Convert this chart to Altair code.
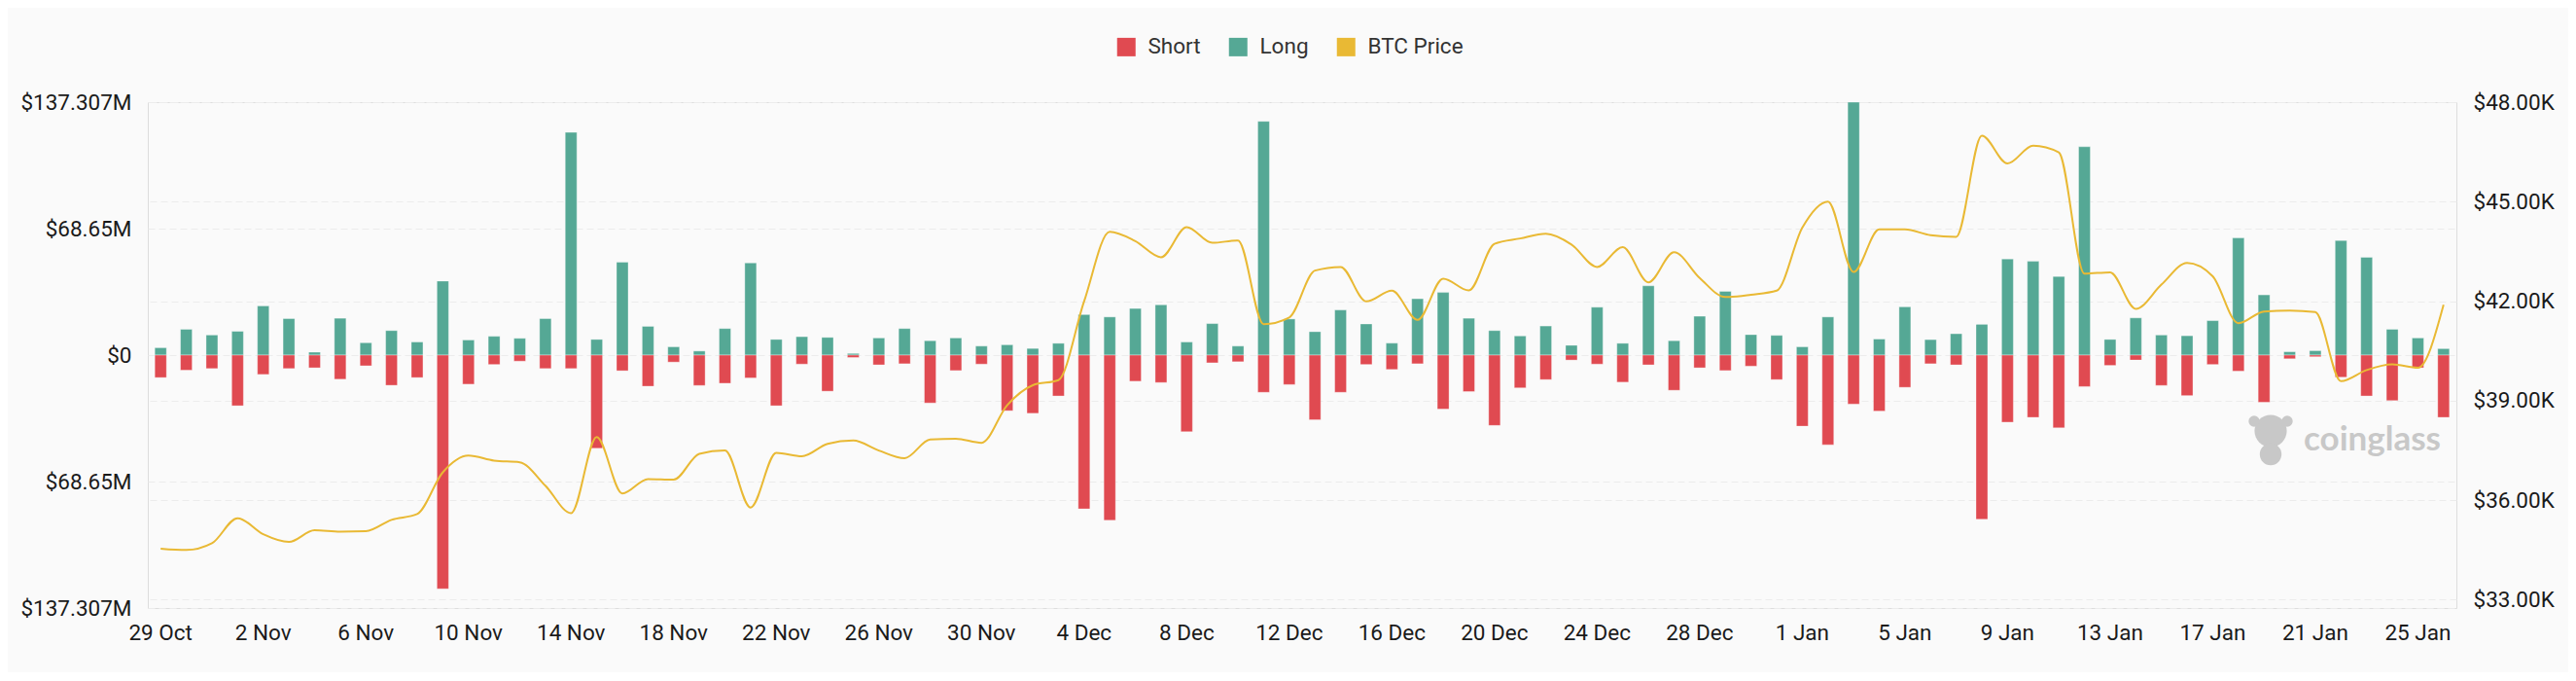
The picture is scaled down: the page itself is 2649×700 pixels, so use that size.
import altair as alt
import pandas as pd

# ---------------- data ----------------
days = [d.strftime("%-d %b") for d in pd.date_range("2023-10-29", periods=90)]

long_vals = [
    4.0, 14.0, 10.9, 12.9, 26.7, 19.8, 1.6, 20.0, 6.7, 13.3,
    7.1, 40.2, 8.2, 10.2, 9.1, 19.8, 120.9, 8.5, 50.4, 15.6,
    4.5, 2.2, 14.4, 50.0, 8.5, 10.0, 9.6, 0.9, 9.3, 14.4,
    7.8, 9.3, 4.9, 5.6, 3.6, 6.4, 22.0, 20.7, 25.3, 27.3,
    7.1, 17.1, 4.9, 126.9, 19.6, 12.7, 24.5, 16.9, 6.5, 30.6,
    34.0, 20.0, 13.3, 10.4, 15.8, 5.3, 26.0, 6.4, 37.6, 7.8,
    21.1, 34.6, 11.1, 10.7, 4.5, 20.7, 137.3, 8.7, 26.2, 8.4,
    11.6, 16.7, 52.2, 50.9, 42.7, 113.1, 8.5, 20.2, 10.9, 10.5,
    18.7, 63.6, 32.7, 1.8, 2.4, 62.2, 53.1, 14.0, 9.3, 3.5,
]

short_vals = [
    12.2, 8.2, 7.3, 27.5, 10.5, 7.3, 6.9, 13.1, 5.8, 16.4,
    12.2, 126.9, 15.8, 5.1, 3.3, 7.3, 7.3, 50.6, 8.5, 16.9,
    3.8, 16.5, 15.3, 12.4, 27.5, 4.9, 19.6, 1.3, 5.3, 4.7,
    26.0, 8.4, 4.9, 30.2, 31.6, 22.2, 83.5, 89.7, 14.2, 14.9,
    41.6, 4.2, 3.6, 20.2, 16.0, 35.1, 20.2, 5.1, 7.8, 4.7,
    29.3, 19.8, 38.2, 17.8, 13.3, 2.7, 4.9, 14.7, 5.3, 19.1,
    6.9, 8.4, 6.0, 13.3, 38.6, 48.7, 26.6, 30.4, 17.5, 4.7,
    5.3, 89.1, 36.4, 33.8, 39.5, 17.1, 5.6, 2.7, 16.5, 22.0,
    5.1, 8.7, 25.6, 2.0, 0.9, 12.0, 22.2, 24.7, 6.9, 33.8,
]

btc_price = [
    34540, 34497, 34700, 35457, 34973, 34741, 35093, 35052, 35064, 35407,
    35580, 36840, 37345, 37193, 37142, 36436, 35609, 37904, 36204, 36638,
    36618, 37398, 37497, 35779, 37427, 37324, 37700, 37800, 37497, 37265,
    37829, 37850, 37730, 38862, 39466, 39619, 41992, 44092, 43810, 43325,
    44234, 43759, 43830, 41305, 41507, 42921, 43032, 41992, 42315, 41436,
    42678, 42325, 43730, 43890, 44032, 43709, 43032, 43628, 42568, 43476,
    42698, 42123, 42194, 42315, 44213, 45001, 42880, 44163, 44163, 43990,
    43941, 46990, 46152, 46687, 46485, 42830, 42870, 41770, 42497, 43153,
    42749, 41335, 41689, 41719, 41669, 39589, 39922, 40093, 39992, 41891,
]

series_names = ["Short", "Long", "BTC Price"]
series_colors = ["#E04A51", "#55A895", "#E9B934"]

x_tick_labels = days[::4]
left_tick_values = [-137.307, -68.6535, 0, 68.6535, 137.307]
left_tick_labels = ["$137.307M", "$68.65M", "$0", "$68.65M", "$137.307M"]
right_tick_values = [33000, 36000, 39000, 42000, 45000, 48000]
right_tick_labels = ["$33.00K", "$36.00K", "$39.00K", "$42.00K", "$45.00K", "$48.00K"]

# ---------------- tables ----------------
bars = pd.DataFrame(
    {"day": days * 2,
     "type": ["Long"] * len(days) + ["Short"] * len(days),
     "value": long_vals + [-v for v in short_vals]}
)
price = pd.DataFrame({"day": days, "price": btc_price})


def label_expr(values, labels):
    expr = "''"
    for v, l in zip(values, labels):
        expr = f"abs(datum.value - ({v})) < 0.01 ? '{l}' : ({expr})"
    return expr


FONT = "Roboto"
GRID = "#ECECEC"

x_enc = alt.X(
    "day:N",
    sort=days,
    scale=alt.Scale(domain=days, paddingInner=0.545, paddingOuter=0.2725),
    axis=alt.Axis(values=x_tick_labels, labelAngle=0, ticks=False, tickSize=0,
                  domain=False, grid=False, labelFontSize=22.5, labelPadding=14,
                  labelColor="#1a1a1a", labelFont=FONT, title=None),
)

bar_layer = alt.Chart(bars).mark_bar(
    stroke="#ffffff", strokeWidth=1, strokeOpacity=0.35
).encode(
    x=x_enc,
    y=alt.Y(
        "value:Q",
        scale=alt.Scale(domain=[-137.307, 137.307], nice=False, zero=False),
        axis=alt.Axis(values=left_tick_values,
                      labelExpr=label_expr(left_tick_values, left_tick_labels),
                      grid=True, gridDash=[7, 4], gridColor=GRID, gridWidth=1,
                      domain=False, ticks=False, tickSize=0, labelPadding=17,
                      labelFontSize=22.5, labelColor="#1a1a1a", labelFont=FONT,
                      title=None),
    ),
    color=alt.Color(
        "type:N",
        scale=alt.Scale(domain=series_names, range=series_colors),
        legend=alt.Legend(orient="none", legendX=995, legendY=-68,
                          direction="horizontal", title=None,
                          symbolType="square", symbolSize=361,
                          symbolStrokeWidth=0, labelFontSize=22.5,
                          labelFont=FONT, labelColor="#333333",
                          labelOffset=11, columnPadding=27),
    ),
)

line_layer = alt.Chart(price).mark_line(
    color=series_colors[2], strokeWidth=2, interpolate="monotone"
).encode(
    x=x_enc,
    y=alt.Y(
        "price:Q",
        scale=alt.Scale(domain=[32748, 48000], nice=False, zero=False),
        axis=alt.Axis(orient="right", values=right_tick_values,
                      labelExpr=label_expr(right_tick_values, right_tick_labels),
                      grid=True, gridDash=[7, 4], gridColor=GRID, gridWidth=1,
                      domain=False, ticks=False, tickSize=0, labelPadding=17,
                      labelFontSize=22.5, labelColor="#1a1a1a", labelFont=FONT,
                      title=None),
    ),
)

# watermark
wm = pd.DataFrame({"t": ["coinglass"]})
wm_text = alt.Chart(wm).mark_text(
    font="Lato", fontWeight="bold", fontSize=35, color="#C8C8C8",
    align="left", baseline="alphabetic"
).encode(text="t:N", x=alt.value(2217), y=alt.value(358))

wm_logo = alt.Chart(pd.DataFrame({"k": ["head", "body", "earL", "earR"],
                                  "px": [2183, 2183, 2166, 2200],
                                  "py": [338, 362, 328, 328],
                                  "s": [1100, 500, 130, 130]})).mark_point(
    filled=True, color="#C8C8C8", opacity=1, shape="circle"
).encode(x=alt.X("px:Q", scale=None), y=alt.Y("py:Q", scale=None),
         size=alt.Size("s:Q", scale=None, legend=None))

chart = alt.layer(bar_layer, line_layer, wm_text, wm_logo).resolve_scale(
    y="independent"
).properties(
    width=2374, height=520,
    autosize=alt.AutoSizeParams(type="none"),
    padding={"left": 144, "top": 97, "right": 115, "bottom": 66},
    background="#FAFAFA",
).configure_view(stroke=None).configure(font=FONT)

chart.save("out.html", embed_options={"renderer": "svg", "actions": False})
